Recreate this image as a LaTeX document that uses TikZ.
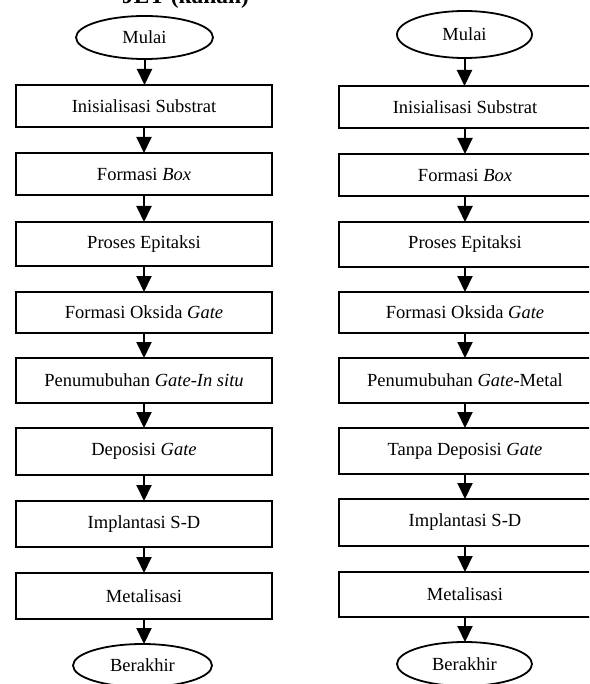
\documentclass[tikz,border=0pt]{standalone}
\usepackage{fontspec}
\setmainfont{Liberation Serif}
\usetikzlibrary{shapes.geometric,arrows.meta}
\begin{document}
\begin{tikzpicture}[x=1pt,y=-1pt,
  txt/.style={font=\fontsize{18.5}{20}\selectfont},
  stepbox/.style={txt,draw,line width=1.8pt,rectangle,inner sep=0pt,outer sep=0pt},
  lbox/.style={stepbox,minimum width=256pt},
  rbox/.style={stepbox,minimum width=252pt},
  term/.style={txt,draw,line width=1.8pt,ellipse,inner sep=0pt,outer sep=0pt},
  flow/.style={line width=2pt,-{Triangle[length=16pt,width=15pt]}}]
\useasboundingbox (0,0) rectangle (589,684);
\clip (0,0) rectangle (589,684);
% title (cut off at top, as in the reference)
\node[anchor=base,font=\bfseries\fontsize{23.4}{26}\selectfont,inner sep=0pt] (title) at (185.5,4) {JET (kanan)};
% left column
\node[term,minimum width=137pt,minimum height=43pt] (l0) at (144.5,37.5) {Mulai};
\node[lbox,minimum height=42pt] (l1) at (144,106) {Inisialisasi Substrat};
\node[lbox,minimum height=42pt] (l2) at (144,174) {Formasi \textit{Box}};
\node[lbox,minimum height=44pt] (l3) at (144,244) {Proses Epitaksi};
\node[lbox,minimum height=41pt] (l4) at (144,312.5) {Formasi Oksida \textit{Gate}};
\node[lbox,minimum height=45pt] (l5) at (144,380.5) {Penumubuhan \textit{Gate-In situ}};
\node[lbox,minimum height=47pt] (l6) at (144,451.5) {Deposisi \textit{Gate}};
\node[lbox,minimum height=46pt] (l7) at (144,524) {Implantasi S-D};
\node[lbox,minimum height=46pt] (l8) at (144,596) {Metalisasi};
\node[term,minimum width=139pt,minimum height=43pt] (l9) at (142.5,665.5) {Berakhir};
% right column
\node[term,minimum width=135pt,minimum height=47pt] (r0) at (464.5,34.5) {Mulai};
\node[rbox,minimum height=42pt] (r1) at (465,107) {Inisialisasi Substrat};
\node[rbox,minimum height=42pt] (r2) at (465,175) {Formasi \textit{Box}};
\node[rbox,minimum height=45pt] (r3) at (465,244.5) {Proses Epitaksi};
\node[rbox,minimum height=41pt] (r4) at (465,312.5) {Formasi Oksida \textit{Gate}};
\node[rbox,minimum height=45pt] (r5) at (465,380.5) {Penumubuhan \textit{Gate}-Metal};
\node[rbox,minimum height=46pt] (r6) at (465,451) {Tanpa Deposisi \textit{Gate}};
\node[rbox,minimum height=47pt] (r7) at (465,522.5) {Implantasi S-D};
\node[rbox,minimum height=45pt] (r8) at (465,594.5) {Metalisasi};
\node[term,minimum width=135pt,minimum height=44pt] (r9) at (464.5,664) {Berakhir};
% connectors
\foreach \a/\b in {0/1,1/2,2/3,3/4,4/5,5/6,6/7,7/8,8/9}{
  \draw[flow] (l\a.south) -- (l\a.south |- l\b.north);
  \draw[flow] (r\a.south) -- (r\a.south |- r\b.north);
}
\end{tikzpicture}
\end{document}
